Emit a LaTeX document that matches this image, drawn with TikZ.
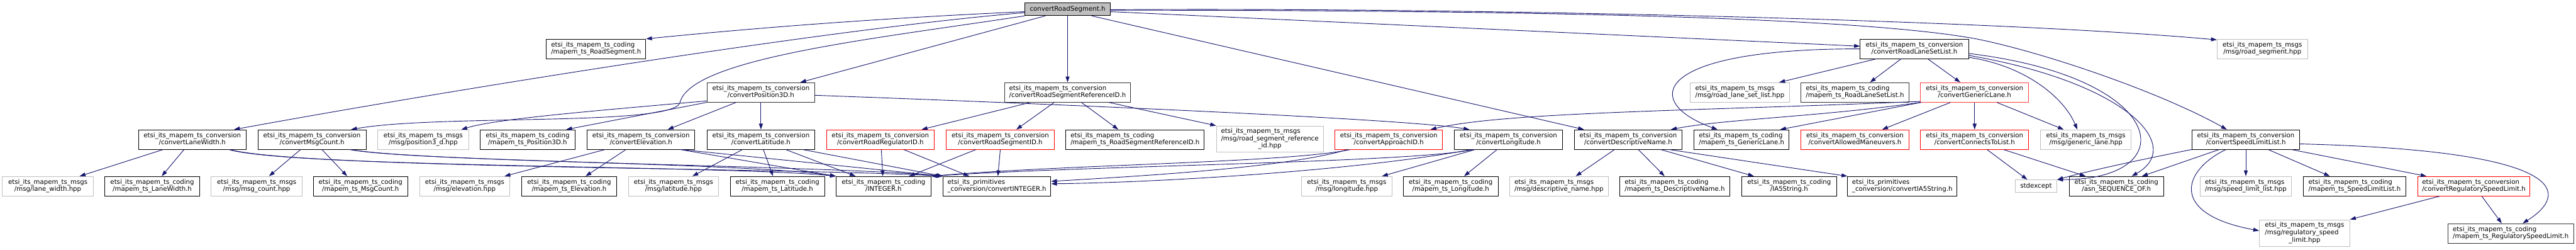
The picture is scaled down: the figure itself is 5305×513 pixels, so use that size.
\documentclass[tikz,border=0pt]{standalone}
\usepackage{fontspec}
\usepackage{tikz}
\usetikzlibrary{arrows.meta}
\newfontfamily\dxfont{DejaVu Sans}
\definecolor{edgeblue}{RGB}{25, 25, 112}
\definecolor{extgray}{RGB}{191, 191, 191}
\newcommand{\mconv}{etsi\_its\_mapem\_ts\_conversion}
\newcommand{\mcode}{etsi\_its\_mapem\_ts\_coding}
\newcommand{\mmsgs}{etsi\_its\_mapem\_ts\_msgs}
\newcommand{\mprim}{etsi\_its\_primitives}
\newcommand{\dlab}[2]{\begin{tabular}{@{}l@{}}#1\\\multicolumn{1}{@{}c@{}}{#2}\end{tabular}}
\newcommand{\dlabiii}[3]{\begin{tabular}{@{}l@{}}#1\\#2\\\multicolumn{1}{@{}c@{}}{#3}\end{tabular}}

\begin{document}
\begin{tikzpicture}[x=1pt, y=-1pt,
    dbox/.style={draw, line width=1.2pt, fill=white, inner sep=0pt, minimum height=40pt,
      font=\dxfont\fontsize{13.2}{15}\selectfont},
    boxw/.style={minimum width=#1},
    docbox/.style={dbox, draw=black},
    extbox/.style={dbox, draw=extgray},
    redbox/.style={dbox, draw=red},
    rootbox/.style={dbox, draw=black, fill=extgray, minimum height=26pt},
    incl/.style={draw=edgeblue, line width=1.2pt, -{Triangle[length=12pt, width=8pt]}}]
    \useasboundingbox (0,0) rectangle (5305,513);

    % Root
    \node[rootbox, boxw=175pt] (root) at (2198.5,19) {convertRoadSegment.h};

    % Rank 1
    \node[docbox, boxw=205pt] (segH) at (1227.5,100.5) {\dlab{\mcode}{/mapem\_ts\_RoadSegment.h}};
    \node[docbox, boxw=223pt] (laneSetConv) at (3942.5,100.5) {\dlab{\mconv}{/convertRoadLaneSetList.h}};
    \node[extbox, boxw=186pt] (segMsg) at (4659,100.5) {\dlab{\mmsgs}{/msg/road\_segment.hpp}};

    % Rank 2
    \node[docbox, boxw=222pt, draw=black!80] (pos3dConv) at (1567,190) {\dlab{\mconv}{/convertPosition3D.h}};
    \node[docbox, boxw=259pt, draw=black!80] (refIdConv) at (2198.5,190) {\dlab{\mconv}{/convertRoadSegmentReferenceID.h}};
    \node[extbox, boxw=204pt] (laneSetMsg) at (3583,190) {\dlab{\mmsgs}{/msg/road\_lane\_set\_list.hpp}};
    \node[docbox, boxw=222pt, draw=black!80] (laneSetH) at (3820,190) {\dlab{\mcode}{/mapem\_ts\_RoadLaneSetList.h}};
    \node[redbox, boxw=223pt, draw=red!75] (genLaneConv) at (4066.5,190) {\dlab{\mconv}{/convertGenericLane.h}};

    % Rank 3
    \node[docbox, boxw=222pt] (widthConv) at (396,287) {\dlab{\mconv}{/convertLaneWidth.h}};
    \node[docbox, boxw=223pt] (countConv) at (642.5,287) {\dlab{\mconv}{/convertMsgCount.h}};
    \node[extbox, boxw=187pt] (pos3dMsg) at (871.5,287) {\dlab{\mmsgs}{/msg/position3\_d.hpp}};
    \node[docbox, boxw=195pt] (pos3dH) at (1086.5,287) {\dlab{\mcode}{/mapem\_ts\_Position3D.h}};
    \node[docbox, boxw=222pt] (elevConv) at (1320,287) {\dlab{\mconv}{/convertElevation.h}};
    \node[docbox, boxw=222pt] (latConv) at (1567,287) {\dlab{\mconv}{/convertLatitude.h}};
    \node[redbox, boxw=222pt] (regIdConv) at (1813,287) {\dlab{\mconv}{/convertRoadRegulatorID.h}};
    \node[redbox, boxw=222pt] (segIdConv) at (2060,287) {\dlab{\mconv}{/convertRoadSegmentID.h}};
    \node[docbox, boxw=285pt] (refIdH) at (2337.5,287) {\dlab{\mcode}{/mapem\_ts\_RoadSegmentReferenceID.h}};
    \node[extbox, boxw=220pt, minimum height=54pt] (refIdMsg) at (2615,286) {\dlabiii{\mmsgs}{/msg/road\_segment\_reference}{\_id.hpp}};
    \node[redbox, boxw=222pt] (approachConv) at (2860,287) {\dlab{\mconv}{/convertApproachID.h}};
    \node[docbox, boxw=223pt] (lonConv) at (3106.5,287) {\dlab{\mconv}{/convertLongitude.h}};
    \node[docbox, boxw=222pt] (nameConv) at (3353,287) {\dlab{\mconv}{/convertDescriptiveName.h}};
    \node[docbox, boxw=195pt] (genLaneH) at (3586.5,287) {\dlab{\mcode}{/mapem\_ts\_GenericLane.h}};
    \node[redbox, boxw=222pt] (manConv) at (3820,287) {\dlab{\mconv}{/convertAllowedManeuvers.h}};
    \node[redbox, boxw=223pt] (connConv) at (4066.5,287) {\dlab{\mconv}{/convertConnectsToList.h}};
    \node[extbox, boxw=187pt] (genLaneMsg) at (4295.5,287) {\dlab{\mmsgs}{/msg/generic\_lane.hpp}};
    \node[docbox, boxw=222pt] (speedConv) at (4625,287) {\dlab{\mconv}{/convertSpeedLimitList.h}};

    % Rank 4
    \node[extbox, boxw=187pt] (widthMsg) at (98.5,383) {\dlab{\mmsgs}{/msg/lane\_width.hpp}};
    \node[docbox, boxw=195pt] (widthH) at (313.5,383) {\dlab{\mcode}{/mapem\_ts\_LaneWidth.h}};
    \node[extbox, boxw=187pt] (countMsg) at (528.5,383) {\dlab{\mmsgs}{/msg/msg\_count.hpp}};
    \node[docbox, boxw=195pt] (countH) at (742.5,383) {\dlab{\mcode}{/mapem\_ts\_MsgCount.h}};
    \node[extbox, boxw=186pt] (elevMsg) at (957,383) {\dlab{\mmsgs}{/msg/elevation.hpp}};
    \node[docbox, boxw=196pt] (elevH) at (1172,383) {\dlab{\mcode}{/mapem\_ts\_Elevation.h}};
    \node[extbox, boxw=186pt] (latMsg) at (1387,383) {\dlab{\mmsgs}{/msg/latitude.hpp}};
    \node[docbox, boxw=194pt] (latH) at (1601,383) {\dlab{\mcode}{/mapem\_ts\_Latitude.h}};
    \node[docbox, boxw=195pt] (intH) at (1819.5,383) {\dlab{\mcode}{/INTEGER.h}};
    \node[docbox, boxw=222pt] (intConv) at (2053,383) {\dlab{\mprim}{\_conversion/convertINTEGER.h}};
    \node[extbox, boxw=187pt] (lonMsg) at (2773.5,383) {\dlab{\mmsgs}{/msg/longitude.hpp}};
    \node[docbox, boxw=195pt] (lonH) at (2987.5,383) {\dlab{\mcode}{/mapem\_ts\_Longitude.h}};
    \node[extbox, boxw=203pt] (nameMsg) at (3210.5,383) {\dlab{\mmsgs}{/msg/descriptive\_name.hpp}};
    \node[docbox, boxw=226pt] (nameH) at (3449,383) {\dlab{\mcode}{/mapem\_ts\_DescriptiveName.h}};
    \node[docbox, boxw=195pt] (iaH) at (3684.5,383) {\dlab{\mcode}{/IA5String.h}};
    \node[docbox, boxw=225pt] (iaConv) at (3917.5,383) {\dlab{\mprim}{\_conversion/convertIA5String.h}};
    \node[extbox, boxw=86pt, minimum height=26pt] (stdexc) at (4193,383) {stdexcept};
    \node[docbox, boxw=195pt] (seqH) at (4358.5,383) {\dlab{\mcode}{/asn\_SEQUENCE\_OF.h}};
    \node[extbox, boxw=188pt] (speedMsg) at (4625,383) {\dlab{\mmsgs}{/msg/speed\_limit\_list.hpp}};
    \node[docbox, boxw=210pt] (speedH) at (4849,383) {\dlab{\mcode}{/mapem\_ts\_SpeedLimitList.h}};
    \node[redbox, boxw=231pt] (regSpeedConv) at (5094.5,383) {\dlab{\mconv}{/convertRegulatorySpeedLimit.h}};

    % Rank 5
    \node[extbox, boxw=186pt, minimum height=55pt] (regSpeedMsg) at (4746,479.5) {\dlabiii{\mmsgs}{/msg/regulatory\_speed}{\_limit.hpp}};
    \node[docbox, boxw=259pt, draw=black!80] (regSpeedH) at (5170.5,480) {\dlab{\mcode}{/mapem\_ts\_RegulatorySpeedLimit.h}};

    % Includes of the root
    \draw[incl] ([yshift=-5pt]root.west) .. controls (1800,38) and (1550,58) .. (segH.north east);
    \draw[incl] ([yshift=-7pt]root.west) .. controls (1700,60) and (900,190) .. ([xshift=86pt]widthConv.north);
    \draw[incl] (root.south west) .. controls (1800,80) and (1420,120) .. (1400,212)
        .. controls (1380,260) and (900,235) .. ([xshift=80.5pt]countConv.north);
    \draw[incl] ([xshift=-45.5pt]root.south) -- ([xshift=81pt]pos3dConv.north);
    \draw[incl] (root.south) -- (refIdConv.north);
    \draw[incl] ([xshift=49.5pt]root.south) -- ([xshift=-91pt]nameConv.north);
    \draw[incl] ([yshift=-5pt]root.east) -- ([yshift=5.5pt]laneSetConv.west);
    \draw[incl] ([yshift=-1pt]root.east) .. controls (3000,15) and (4100,40) .. ([yshift=-2pt]segMsg.north west);
    \draw[incl] ([yshift=-2pt]root.east) .. controls (3000,21) and (3800,30) .. (4070,80)
        .. controls (4210,108) and (4450,190) .. ([xshift=-39pt]speedConv.north);

    % Includes of convertPosition3D.h
    \draw[incl] ([yshift=3pt]pos3dConv.south west) .. controls (1200,230) and (1020,245) .. ([xshift=78.5pt]pos3dMsg.north);
    \draw[incl] (pos3dConv.south west) -- ([xshift=79.5pt]pos3dH.north);
    \draw[incl] ([xshift=-51pt]pos3dConv.south) -- ([xshift=55pt]elevConv.north);
    \draw[incl] (pos3dConv.south) -- (latConv.north);
    \draw[incl] ([yshift=-6pt]pos3dConv.east) .. controls (2200,215) and (2900,245) .. ([xshift=-80.5pt]lonConv.north);

    % Includes of convertRoadSegmentReferenceID.h
    \draw[incl] ([xshift=-76.5pt]refIdConv.south) -- ([xshift=85pt]regIdConv.north);
    \draw[incl] ([xshift=-27.5pt]refIdConv.south) -- ([xshift=33pt]segIdConv.north);
    \draw[incl] ([xshift=28.5pt]refIdConv.south) -- ([xshift=-34.5pt]refIdH.north);
    \draw[incl] ([xshift=84.5pt]refIdConv.south) -- (refIdMsg.north west);

    % Includes of the INTEGER converters
    \draw[incl] ([xshift=-60pt]widthConv.south) -- ([xshift=65.5pt]widthMsg.north);
    \draw[incl] ([xshift=-17pt]widthConv.south) -- ([xshift=19.5pt]widthH.north);
    \draw[incl] ([xshift=75pt]widthConv.south) .. controls (600,345) and (1500,340) .. (intH.north west);
    \draw[incl] ([xshift=77pt]widthConv.south) .. controls (620,347) and (1650,345) .. (intConv.north west);

    \draw[incl] ([xshift=-23.5pt]countConv.south) -- ([xshift=25.5pt]countMsg.north);
    \draw[incl] ([xshift=20.5pt]countConv.south) -- ([xshift=-27.5pt]countH.north);
    \draw[incl] ([xshift=77.5pt]countConv.south) .. controls (850,332) and (1550,335) .. (intH.north west);
    \draw[incl] ([xshift=79.5pt]countConv.south) .. controls (870,334) and (1700,340) .. (intConv.north west);

    \draw[incl] ([xshift=-74pt]elevConv.south) -- ([xshift=82pt]elevMsg.north);
    \draw[incl] ([xshift=-31pt]elevConv.south) -- ([xshift=34pt]elevH.north);
    \draw[incl] ([xshift=81pt]elevConv.south) -- (intH.north west);
    \draw[incl] ([xshift=83pt]elevConv.south) -- (intConv.north west);

    \draw[incl] ([xshift=-38pt]latConv.south) -- ([xshift=39pt]latMsg.north);
    \draw[incl] ([xshift=5pt]latConv.south) -- ([xshift=-9pt]latH.north);
    \draw[incl] ([xshift=51pt]latConv.south) -- ([xshift=-57.5pt]intH.north);
    \draw[incl] ([xshift=86pt]latConv.south) -- (intConv.north west);

    \draw[incl] ([xshift=2pt]regIdConv.south) -- ([xshift=-1.5pt]intH.north);
    \draw[incl] ([xshift=48pt]regIdConv.south) -- ([xshift=-57pt]intConv.north);
    \draw[incl] ([xshift=-50pt]segIdConv.south) -- ([xshift=52.5pt]intH.north);
    \draw[incl] (segIdConv.south) -- ([xshift=2pt]intConv.north);

    \draw[incl] ([xshift=-79pt]approachConv.south) .. controls (2650,335) and (2200,338) .. (intH.north east);
    \draw[incl] ([xshift=-85pt]approachConv.south) .. controls (2650,345) and (2350,362) .. ([yshift=10pt]intConv.east);

    \draw[incl] ([xshift=-68.5pt]lonConv.south) -- ([xshift=72.5pt]lonMsg.north);
    \draw[incl] ([xshift=-23.5pt]lonConv.south) -- ([xshift=27.5pt]lonH.north);
    \draw[incl] ([xshift=-71.5pt]lonConv.south) .. controls (2900,335) and (2250,340) .. (intH.north east);
    \draw[incl] ([xshift=-76.5pt]lonConv.south) .. controls (2800,350) and (2400,375) .. ([yshift=5pt]intConv.east);

    % Includes of convertDescriptiveName.h
    \draw[incl] ([xshift=-28pt]nameConv.south) -- ([xshift=34.5pt]nameMsg.north);
    \draw[incl] ([xshift=21pt]nameConv.south) -- ([xshift=-21pt]nameH.north);
    \draw[incl] ([xshift=67pt]nameConv.south) -- ([xshift=-72.5pt]iaH.north);
    \draw[incl] ([xshift=84pt]nameConv.south) -- (iaConv.north west);

    % Includes of convertRoadLaneSetList.h
    \draw[incl] ([xshift=-78.5pt]laneSetConv.south) -- ([xshift=81pt]laneSetMsg.north);
    \draw[incl] ([xshift=-27.5pt]laneSetConv.south) -- ([xshift=31pt]laneSetH.north);
    \draw[incl] ([xshift=27.5pt]laneSetConv.south) -- ([xshift=-29.5pt]genLaneConv.north);
    \draw[incl] (laneSetConv.west) .. controls (3400,100) and (3380,210) .. ([xshift=-49.5pt]genLaneH.north);
    \draw[incl] ([yshift=-17.5pt]laneSetConv.east) .. controls (4170,135) and (4250,200) .. ([xshift=-17.5pt]genLaneMsg.north);
    \draw[incl] ([yshift=-13.5pt]laneSetConv.east) .. controls (4380,170) and (4500,300) .. ([xshift=31.5pt]seqH.north);
    \draw[incl] ([yshift=-9.5pt]laneSetConv.east) .. controls (4470,160) and (4500,370) .. (stdexc.north east);

    % Includes of convertGenericLane.h
    \draw[incl] ([yshift=2pt]genLaneConv.south west) .. controls (3500,228) and (3100,230) .. ([xshift=86pt]approachConv.north);
    \draw[incl] (genLaneConv.south west) .. controls (3750,240) and (3550,245) .. ([xshift=88pt]nameConv.north);
    \draw[incl] ([xshift=2pt]genLaneConv.south west) -- ([xshift=79.5pt]genLaneH.north);
    \draw[incl] ([xshift=-49.5pt]genLaneConv.south) -- ([xshift=56pt]manConv.north);
    \draw[incl] (genLaneConv.south) -- (connConv.north);
    \draw[incl] ([xshift=45.5pt]genLaneConv.south) -- ([xshift=-45.5pt]genLaneMsg.north);

    \draw[incl] ([xshift=25.5pt]connConv.south) -- ([xshift=-18pt]stdexc.north);
    \draw[incl] ([xshift=59.5pt]connConv.south) -- ([xshift=-63.5pt]seqH.north);

    % Includes of convertSpeedLimitList.h
    \draw[incl] (speedConv.south west) .. controls (4400,330) and (4300,352) .. (stdexc.north east);
    \draw[incl] ([xshift=-55pt]speedConv.south) -- ([xshift=52.5pt]seqH.north);
    \draw[incl] ([xshift=-41pt]speedConv.south) .. controls (4495,350) and (4465,440) .. ([yshift=5pt]regSpeedMsg.west);
    \draw[incl] (speedConv.south) -- (speedMsg.north);
    \draw[incl] ([xshift=46pt]speedConv.south) -- ([xshift=-51pt]speedH.north);
    \draw[incl] ([xshift=94pt]speedConv.south) -- ([xshift=-97.5pt]regSpeedConv.north);
    \draw[incl] ([yshift=-9pt]speedConv.east) .. controls (5300,310) and (5290,400) .. ([xshift=24.5pt]regSpeedH.north);

    \draw[incl] ([xshift=-70.5pt]regSpeedConv.south) -- (regSpeedMsg.north east);
    \draw[incl] ([xshift=16.5pt]regSpeedConv.south) -- ([xshift=-18.5pt]regSpeedH.north);
\end{tikzpicture}
\end{document}
